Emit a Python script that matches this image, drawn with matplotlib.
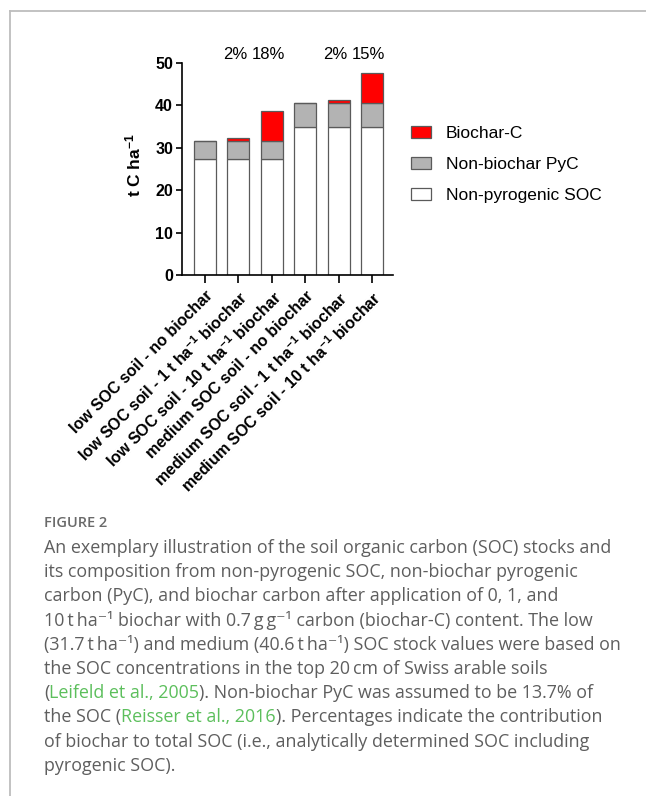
import matplotlib
matplotlib.use("Agg")
import matplotlib.pyplot as plt
from matplotlib.patches import Patch
from matplotlib.lines import Line2D

# ---------------- data ----------------
categories = [
    "low SOC soil - no biochar",
    "low SOC soil - 1 t ha$^{-1}$ biochar",
    "low SOC soil - 10 t ha$^{-1}$ biochar",
    "medium SOC soil - no biochar",
    "medium SOC soil - 1 t ha$^{-1}$ biochar",
    "medium SOC soil - 10 t ha$^{-1}$ biochar",
]
non_pyrogenic_soc = [27.4, 27.4, 27.4, 35.0, 35.0, 35.0]
non_biochar_pyc = [4.3, 4.3, 4.3, 5.6, 5.6, 5.6]
biochar_c = [0.0, 0.7, 7.0, 0.0, 0.7, 7.0]
pct_labels = ["", "2%", "18%", "", "2%", "15%"]
series_names = ["Biochar-C", "Non-biochar PyC", "Non-pyrogenic SOC"]
y_ticks = [0, 10, 20, 30, 40, 50]
y_label = "t C ha$^{-1}$"

caption_title = "FIGURE 2"
caption_lines = [
    [("An exemplary illustration of the soil organic carbon (SOC) stocks and", "k")],
    [("its composition from non-pyrogenic SOC, non-biochar pyrogenic", "k")],
    [("carbon (PyC), and biochar carbon after application of 0, 1, and", "k")],
    [("10\u2009t\u2009ha\u207b\u00b9 biochar with 0.7\u2009g\u2009g\u207b\u00b9 carbon (biochar-C) content. The low", "k")],
    [("(31.7\u2009t\u2009ha\u207b\u00b9) and medium (40.6\u2009t\u2009ha\u207b\u00b9) SOC stock values were based on", "k")],
    [("the SOC concentrations in the top 20\u2009cm of Swiss arable soils", "k")],
    [("(", "k"), ("Leifeld et al., 2005", "g"), ("). Non-biochar PyC was assumed to be 13.7% of", "k")],
    [("the SOC (", "k"), ("Reisser et al., 2016", "g"), ("). Percentages indicate the contribution", "k")],
    [("of biochar to total SOC (i.e., analytically determined SOC including", "k")],
    [("pyrogenic SOC).", "k")],
]

# ---------------- style ----------------
W, H = 646, 796
plt.rcParams["font.family"] = ["Liberation Sans", "DejaVu Sans"]
plt.rcParams["mathtext.fontset"] = "custom"
plt.rcParams["mathtext.rm"] = "Liberation Sans:bold"
plt.rcParams["mathtext.it"] = "Liberation Sans:bold"
plt.rcParams["mathtext.bf"] = "Liberation Sans:bold"

RED = "#ff0000"
GRAY = "#b3b3b3"
EDGE = "#5a5a5a"
TEXT_GRAY = "#5e5e5e"
GREEN = "#5cbf5c"

fig = plt.figure(figsize=(W / 100, H / 100), dpi=100)
fig.patch.set_facecolor("white")

def fx(px):
    return px / W

def fy(py):
    return 1 - py / H

# frame lines (top and left)
fig.add_artist(Line2D([fx(10), fx(W)], [fy(11), fy(11)], color="#bdbdbd", lw=1.3))
fig.add_artist(Line2D([fx(10), fx(10)], [fy(11), fy(H)], color="#bdbdbd", lw=1.3))

ax_l, ax_r, ax_t, ax_b = 182, 393, 63, 275
ax = fig.add_axes([fx(ax_l), fy(ax_b), (ax_r - ax_l) / W, (ax_b - ax_t) / H])

x = list(range(len(categories)))
bw = 0.66
ax.bar(x, non_pyrogenic_soc, bw, color="white", edgecolor=EDGE, linewidth=0.9,
       label=series_names[2])
ax.bar(x, non_biochar_pyc, bw, bottom=non_pyrogenic_soc, color=GRAY,
       edgecolor=EDGE, linewidth=0.9, label=series_names[1])
bottoms = [a + b for a, b in zip(non_pyrogenic_soc, non_biochar_pyc)]
ax.bar(x, biochar_c, bw, bottom=bottoms, color=RED, edgecolor=EDGE,
       linewidth=0.9, label=series_names[0])

ax.set_xlim(-0.69, 5.63)
ax.set_ylim(0, 50)
ax.set_yticks(y_ticks)
ax.set_yticklabels([str(t) for t in y_ticks], fontweight="bold", fontsize=11.5)
ax.set_xticks(x)
ax.set_xticklabels(categories, rotation=45, ha="right", va="top",
                   rotation_mode="anchor", fontweight="bold", fontsize=11.5)
for s in ["top", "right"]:
    ax.spines[s].set_visible(False)
for s in ["left", "bottom"]:
    ax.spines[s].set_linewidth(1.2)
ax.tick_params(axis="y", length=4.5, width=1.2, pad=2)
ax.tick_params(axis="x", length=5.5, width=1.2, pad=4)
ax.set_ylabel(y_label, fontweight="bold", fontsize=12.5)
ax.yaxis.set_label_coords(-0.185, 0.52)

for xi, lab in zip(x, pct_labels):
    if lab:
        ax.text(xi - 0.1, 51.9, lab, ha="center", va="center", fontsize=12,
                clip_on=False)

handles = [Patch(facecolor=RED, edgecolor=EDGE, linewidth=0.9),
           Patch(facecolor=GRAY, edgecolor=EDGE, linewidth=0.9),
           Patch(facecolor="white", edgecolor=EDGE, linewidth=0.9)]
fig.legend(handles, series_names, loc="upper left",
           bbox_to_anchor=(fx(411), fy(126)), frameon=False, fontsize=12.5,
           handlelength=1.15, handleheight=0.7, handletextpad=0.85,
           labelspacing=0.9, borderaxespad=0, borderpad=0)

# ---------------- caption ----------------
cap_font = ["Open Sans", "DejaVu Sans"]
fig.text(fx(44), fy(523), caption_title, fontsize=10.5, color="#6a6a6a",
         family=cap_font, fontweight="semibold", va="center", ha="left")

fig.canvas.draw()
renderer = fig.canvas.get_renderer()
cap_size = 12.9
y0, dy = 548, 24.2
for i, segs in enumerate(caption_lines):
    xpix = 44
    for txt, c in segs:
        t = fig.text(fx(xpix), fy(y0 + i * dy), txt, fontsize=cap_size,
                     color=GREEN if c == "g" else TEXT_GRAY, family=cap_font,
                     va="center", ha="left")
        bb = t.get_window_extent(renderer=renderer)
        xpix += bb.width

fig.savefig("out.png", dpi=100, facecolor="white")
